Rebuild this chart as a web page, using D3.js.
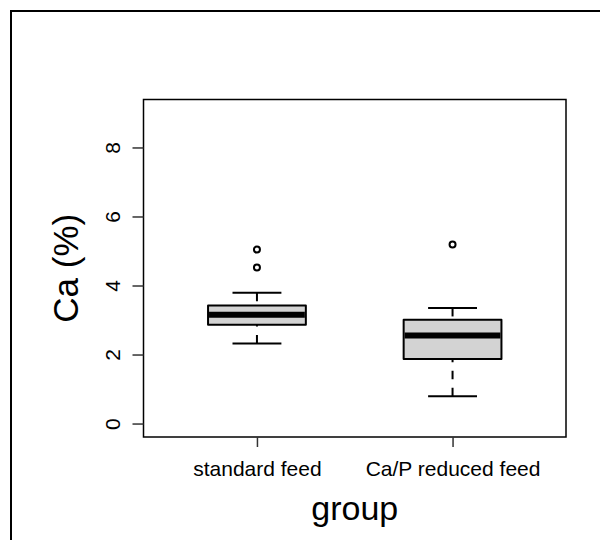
<!DOCTYPE html>
<html>
<head>
<meta charset="utf-8">
<script src="https://cdn.jsdelivr.net/npm/d3@7"></script>
<style>
  html, body { margin: 0; padding: 0; background: #fff; }
  svg { display: block; font-family: "Liberation Sans", Arial, sans-serif; }
</style>
</head>
<body>
<svg id="chart" width="600" height="540"></svg>
<script>
// Groups and their boxplot summaries (Ca, %)
const groups = ["standard feed", "Ca/P reduced feed"];
const lowerWhisker = [2.32, 0.79];
const lowerHinge   = [2.86, 1.87];
const medians      = [3.15, 2.55];
const upperHinge   = [3.42, 3.01];
const upperWhisker = [3.79, 3.35];
const outliers     = [[4.52, 5.04], [5.19]];
const yTicks = [0, 2, 4, 6, 8];

const svg = d3.select("#chart");

// Outer figure frame (only left and top edges fall inside the view)
svg.append("rect")
  .attr("x", 11).attr("y", 11).attr("width", 700).attr("height", 700)
  .attr("fill", "none").attr("stroke", "#000").attr("stroke-width", 2);

const plot = { left: 143.5, top: 99.5, right: 566, bottom: 437 };

const x = d3.scaleLinear().domain([0.42, 2.58]).range([plot.left, plot.right]);
const y = d3.scaleLinear().domain([-0.39, 9.39]).range([plot.bottom, plot.top]);

const boxHalf = 0.25, capHalf = 0.125;

const data = groups.map((g, i) => ({
  name: g, pos: i + 1,
  lw: lowerWhisker[i], q1: lowerHinge[i], med: medians[i],
  q3: upperHinge[i], uw: upperWhisker[i], out: outliers[i]
}));

const boxes = svg.append("g").selectAll("g").data(data).join("g");

// Whiskers: dashed segments from whisker ends to the hinges
boxes.append("line")
  .attr("x1", d => x(d.pos)).attr("x2", d => x(d.pos))
  .attr("y1", d => y(d.lw)).attr("y2", d => y(d.q1))
  .attr("stroke", "#000").attr("stroke-width", 2).attr("stroke-dasharray", "8.5,8.5");
boxes.append("line")
  .attr("x1", d => x(d.pos)).attr("x2", d => x(d.pos))
  .attr("y1", d => y(d.uw)).attr("y2", d => y(d.q3))
  .attr("stroke", "#000").attr("stroke-width", 2).attr("stroke-dasharray", "8.5,8.5");

// Whisker caps
["lw", "uw"].forEach(k => {
  boxes.append("line")
    .attr("x1", d => x(d.pos - capHalf)).attr("x2", d => x(d.pos + capHalf))
    .attr("y1", d => y(d[k])).attr("y2", d => y(d[k]))
    .attr("stroke", "#000").attr("stroke-width", 2);
});

// Boxes
boxes.append("rect")
  .attr("x", d => x(d.pos - boxHalf))
  .attr("width", d => x(d.pos + boxHalf) - x(d.pos - boxHalf))
  .attr("y", d => y(d.q3))
  .attr("height", d => y(d.q1) - y(d.q3))
  .attr("fill", "#d3d3d3").attr("stroke", "#000").attr("stroke-width", 2)
  .attr("stroke-linejoin", "round");

// Medians
boxes.append("line")
  .attr("x1", d => x(d.pos - boxHalf) + 1).attr("x2", d => x(d.pos + boxHalf) - 1)
  .attr("y1", d => y(d.med)).attr("y2", d => y(d.med))
  .attr("stroke", "#000").attr("stroke-width", 6);

// Outliers
boxes.selectAll("circle").data(d => d.out.map(v => ({ pos: d.pos, v })))
  .join("circle")
  .attr("cx", d => x(d.pos)).attr("cy", d => y(d.v)).attr("r", 3)
  .attr("fill", "none").attr("stroke", "#000").attr("stroke-width", 2);

// Plot frame
svg.append("rect")
  .attr("x", plot.left).attr("y", plot.top)
  .attr("width", plot.right - plot.left).attr("height", plot.bottom - plot.top)
  .attr("fill", "none").attr("stroke", "#000").attr("stroke-width", 1.5);

// Y axis
const yAxis = svg.append("g")
  .attr("transform", `translate(${plot.left},0)`)
  .call(d3.axisLeft(y).tickValues(yTicks).tickSize(11).tickSizeOuter(0).tickPadding(6));
yAxis.select(".domain").remove();
yAxis.selectAll(".tick line").attr("stroke", "#333").attr("stroke-width", 1.5);
yAxis.selectAll(".tick text")
  .attr("x", null).attr("dy", null)
  .attr("transform", "translate(-24,0) rotate(-90)")
  .attr("text-anchor", "middle")
  .attr("font-size", 21).attr("fill", "#000")
  .attr("font-family", "Liberation Sans, Arial, sans-serif");

// X axis
const xAxis = svg.append("g")
  .attr("transform", `translate(0,${plot.bottom})`)
  .call(d3.axisBottom(x).tickValues([1, 2]).tickFormat(d => groups[d - 1])
    .tickSize(10).tickSizeOuter(0).tickPadding(14));
xAxis.select(".domain").remove();
xAxis.selectAll(".tick line").attr("stroke", "#333").attr("stroke-width", 1.5);
xAxis.selectAll(".tick text")
  .attr("font-size", 21).attr("fill", "#000")
  .attr("font-family", "Liberation Sans, Arial, sans-serif");

// Axis titles
svg.append("text")
  .attr("x", (plot.left + plot.right) / 2).attr("y", 520)
  .attr("text-anchor", "middle").attr("font-size", 34).attr("fill", "#000")
  .text("group");
svg.append("text")
  .attr("transform", `translate(78,${(plot.top + plot.bottom) / 2}) rotate(-90)`)
  .attr("text-anchor", "middle").attr("font-size", 35).attr("fill", "#000")
  .text("Ca (%)");
</script>
</body>
</html>
